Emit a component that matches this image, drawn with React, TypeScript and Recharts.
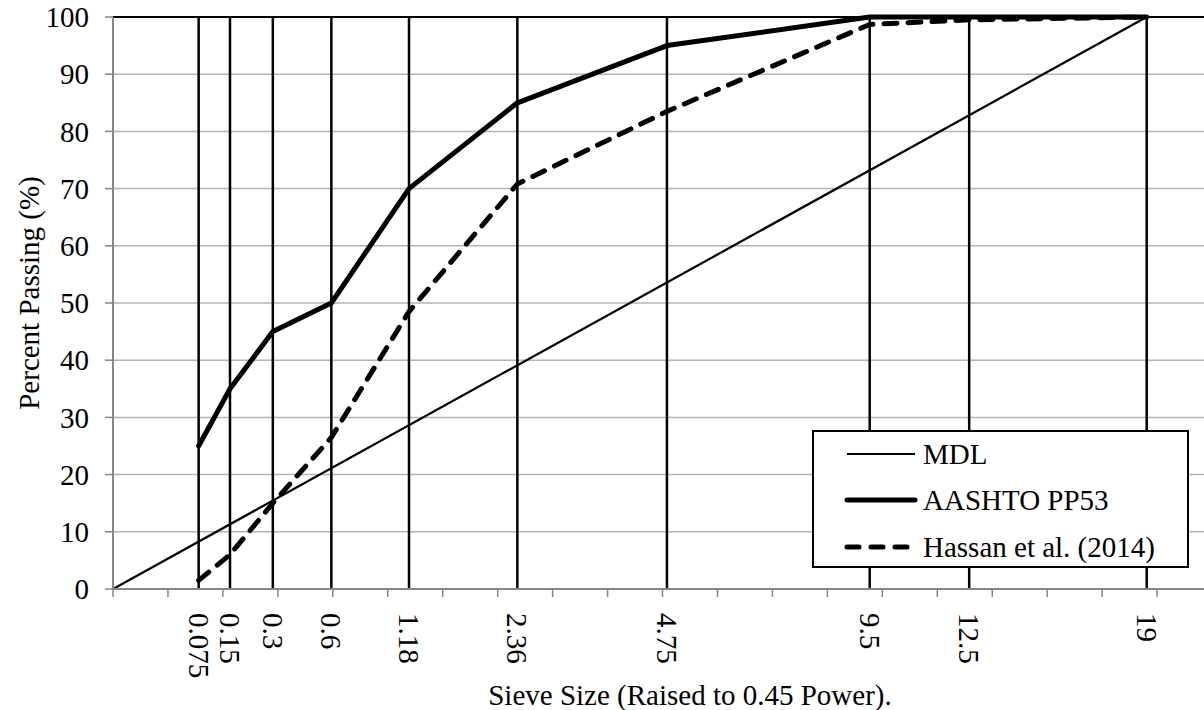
import {
  ComposedChart, Line, XAxis, YAxis, CartesianGrid, ReferenceLine, Legend, Label
} from 'recharts'

const FONT = '"Liberation Serif", "Times New Roman", serif'
const FS = 29

// sieve sizes (mm) and percent passing
const SIEVES = [0.075, 0.15, 0.3, 0.6, 1.18, 2.36, 4.75, 9.5, 12.5, 19]
const SIEVE_LABELS = ['0.075', '0.15', '0.3', '0.6', '1.18', '2.36', '4.75', '9.5', '12.5', '19']
const AASHTO_PP53 = [25, 35, 45, 50, 70, 85, 95, 100, 100, 100]
const HASSAN_2014 = [1.5, 6, 15, 26.5, 48.5, 70.8, 83.5, 98.7, 99.5, 100]
const MDL_SIEVES = [0, 19]
const MDL = [0, 100]

// x axis is sieve size raised to 0.45
const MINOR_TICKS = [0, 0.2, 0.4, 0.6, 0.8, 1, 1.2, 1.4, 1.6, 1.8, 2, 2.2, 2.4, 2.6, 2.8, 3, 3.2, 3.4, 3.6, 3.8, 4, 4.2]
const Y_TICKS = [0, 10, 20, 30, 40, 50, 60, 70, 80, 90, 100]

const pow = (s: number) => Math.pow(s, 0.45)
const SIEVE_POS = SIEVES.map(pow)

const mdlData = MDL_SIEVES.map((s, i) => ({ x: pow(s), y: MDL[i] }))
const aashtoData = SIEVES.map((s, i) => ({ x: pow(s), y: AASHTO_PP53[i] }))
const hassanData = SIEVES.map((s, i) => ({ x: pow(s), y: HASSAN_2014[i] }))

const AXIS_GRAY = '#868686'

function SieveTick(props: any) {
  const { x, y, payload } = props
  const i = SIEVE_POS.indexOf(payload.value)
  if (i < 0) {
    return <line x1={x} x2={x} y1={y - 24} y2={y - 16} stroke={AXIS_GRAY} strokeWidth={1.5} />
  }
  return (
    <text
      x={x}
      y={y}
      transform={`rotate(90, ${x}, ${y})`}
      dominantBaseline="central"
      textAnchor="start"
      fontSize={FS}
      fontFamily={FONT}
      fill="#000"
    >
      {SIEVE_LABELS[i]}
    </text>
  )
}

function GradationLegend() {
  const rows = [
    { name: 'MDL', width: 2, dash: undefined, cy: 24 },
    { name: 'AASHTO PP53', width: 5, dash: undefined, cy: 70 },
    { name: 'Hassan et al. (2014)', width: 5, dash: '12 12', cy: 117 },
  ]
  return (
    <svg width={377} height={138} style={{ display: 'block' }}>
      <rect x={1} y={1} width={375} height={136} fill="#fff" stroke="#000" strokeWidth={2} />
      {rows.map((r) => (
        <g key={r.name}>
          <line
            x1={35} x2={103} y1={r.cy} y2={r.cy}
            stroke="#000" strokeWidth={r.width}
            strokeDasharray={r.dash}
            strokeLinecap={r.width > 2 ? 'round' : 'butt'}
          />
          <text x={111} y={r.cy} dy="0.34em" fontSize={FS} fontFamily={FONT} fill="#000">
            {r.name}
          </text>
        </g>
      ))}
    </svg>
  )
}

export default function App() {
  return (
    <div style={{
      position: 'absolute', left: 0, top: 0, width: 1204, height: 710,
      overflow: 'hidden', background: '#fff',
    }}>
      <ComposedChart
        width={1267}
        height={710}
        margin={{ top: 17, right: 0, bottom: 0, left: 0 }}
        style={{ fontFamily: FONT }}
      >
        <CartesianGrid vertical={false} stroke="#b4b4b4" strokeWidth={1.5} />
        <XAxis
          dataKey="x"
          type="number"
          domain={[0, 4.2]}
          ticks={[...MINOR_TICKS, ...SIEVE_POS]}
          interval={0}
          allowDataOverflow
          height={121}
          tickSize={8}
          tickMargin={16}
          tickLine={false}
          axisLine={{ stroke: AXIS_GRAY, strokeWidth: 2 }}
          tick={(p: any) => <SieveTick {...p} />}
        >
          <Label
            content={({ viewBox }: any) => {
              const { x, y, width } = viewBox
              return (
                <text x={x + width / 2} y={y + 116} textAnchor="middle" fontSize={FS} fontFamily={FONT} fill="#000">
                  Sieve Size (Raised to 0.45 Power).
                </text>
              )
            }}
          />
        </XAxis>
        <YAxis
          type="number"
          domain={[0, 100]}
          ticks={Y_TICKS}
          interval={0}
          width={113}
          tickSize={8}
          tickMargin={16}
          tickLine={{ stroke: AXIS_GRAY, strokeWidth: 1.5 }}
          axisLine={{ stroke: AXIS_GRAY, strokeWidth: 2 }}
          tick={{ fontSize: FS, fontFamily: FONT, fill: '#000' }}
        >
          <Label
            content={({ viewBox }: any) => {
              const { x, y, height } = viewBox
              const cx = x + 29
              const cy = y + height / 2 - 10
              return (
                <text
                  x={cx} y={cy}
                  transform={`rotate(-90, ${cx}, ${cy})`}
                  textAnchor="middle"
                  dominantBaseline="central"
                  fontSize={FS}
                  fontFamily={FONT}
                  fill="#000"
                >
                  Percent Passing (%)
                </text>
              )
            }}
          />
        </YAxis>
        <ReferenceLine y={100} stroke="#000" strokeWidth={2} />
        {SIEVE_POS.map((p) => (
          <ReferenceLine key={p} x={p} stroke="#000" strokeWidth={2.5} />
        ))}
        <Line
          data={mdlData}
          dataKey="y"
          name="MDL"
          stroke="#000"
          strokeWidth={2.2}
          dot={false}
          activeDot={false}
          isAnimationActive={false}
          type="linear"
        />
        <Line
          data={aashtoData}
          dataKey="y"
          name="AASHTO PP53"
          stroke="#000"
          strokeWidth={5}
          strokeLinejoin="round"
          strokeLinecap="round"
          dot={false}
          activeDot={false}
          isAnimationActive={false}
          type="linear"
        />
        <Line
          data={hassanData}
          dataKey="y"
          name="Hassan et al. (2014)"
          stroke="#000"
          strokeWidth={5}
          strokeDasharray="13 11"
          strokeLinejoin="round"
          strokeLinecap="round"
          dot={false}
          activeDot={false}
          isAnimationActive={false}
          type="linear"
        />
        <Legend
          layout="horizontal"
          verticalAlign="middle"
          align="center"
          wrapperStyle={{ left: 812, top: 430, width: 377, height: 138 }}
          content={() => <GradationLegend />}
        />
      </ComposedChart>
    </div>
  )
}
